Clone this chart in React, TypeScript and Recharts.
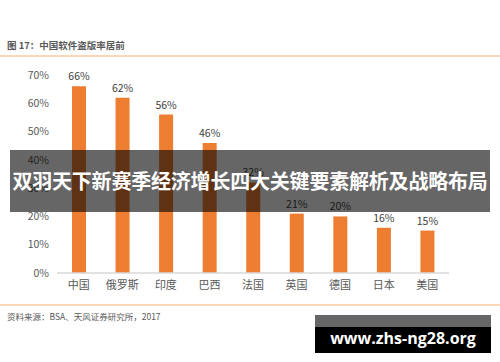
import { BarChart, Bar, XAxis, YAxis, LabelList } from 'recharts';

// 中国软件盗版率 (BSA 2017)
const countries = ['中国', '俄罗斯', '印度', '巴西', '法国', '英国', '德国', '日本', '美国'];
const piracyRate = [66, 62, 56, 46, 32, 21, 20, 16, 15];
const yTicks = [0, 10, 20, 30, 40, 50, 60, 70];

const data = countries.map((name, i) => ({ name, rate: piracyRate[i] }));

const font = '"Noto Sans CJK SC", "Noto Sans", sans-serif';

export default function App() {
  return (
    <div
      style={{
        position: 'absolute',
        left: 0,
        top: 0,
        width: 500,
        height: 362,
        background: '#fff',
        fontFamily: font,
        overflow: 'hidden',
      }}
    >
      <div
        style={{
          position: 'absolute',
          left: 7,
          top: 39,
          fontSize: 9.5,
          fontWeight: 700,
          color: '#595959',
          lineHeight: '13px',
          whiteSpace: 'nowrap',
        }}
      >
        图 17：中国软件盗版率居前
      </div>
      <div style={{ position: 'absolute', left: 0, top: 55, width: 500, height: 2, background: '#fbd6b7' }} />

      <div style={{ position: 'absolute', left: 0, top: 0 }}>
        <BarChart
          width={500}
          height={362}
          data={data}
          margin={{ top: 75, right: 51, left: 0, bottom: 59 }}
        >
          <XAxis
            dataKey="name"
            height={30}
            tickLine={false}
            axisLine={{ stroke: '#d9d9d9', strokeWidth: 1.5 }}
            tick={{ fill: '#595959', fontSize: 11, fontFamily: font }}
            interval={0}
          />
          <YAxis
            width={57}
            domain={[0, 70]}
            ticks={yTicks}
            tickLine={false}
            axisLine={false}
            tickFormatter={(v: number) => `${v}%`}
            tick={{ fill: '#595959', fontSize: 10.5, fontFamily: font }}
          />
          <Bar dataKey="rate" fill="#ED7D31" barSize={14} isAnimationActive={false}>
            <LabelList
              dataKey="rate"
              position="top"
              offset={6}
              formatter={(v: number) => `${v}%`}
              style={{ fill: '#404040', fontSize: 10.5, fontFamily: font }}
            />
          </Bar>
        </BarChart>
      </div>

      <div style={{ position: 'absolute', left: 0, top: 304, width: 500, height: 2, background: '#fbd6b7' }} />
      <div
        style={{
          position: 'absolute',
          left: 7,
          top: 310,
          fontSize: 8.5,
          color: '#595959',
          lineHeight: '12px',
          whiteSpace: 'nowrap',
        }}
      >
        资料来源：BSA、天风证券研究所，2017
      </div>

      {/* overlay banner */}
      <div
        style={{
          position: 'absolute',
          left: 10,
          top: 150,
          width: 480,
          height: 62,
          background: 'rgba(0,0,0,0.6)',
          color: '#fff',
          fontSize: 20,
          fontWeight: 700,
          lineHeight: '62px',
          textAlign: 'center',
          whiteSpace: 'nowrap',
          letterSpacing: -0.2,
        }}
      >
        双羽天下新赛季经济增长四大关键要素解析及战略布局
      </div>

      {/* watermark */}
      <div
        style={{
          position: 'absolute',
          left: 315,
          top: 315,
          width: 176,
          height: 38,
          background: 'linear-gradient(#666 0, #666 12px, #000 12px, #000 100%)',
        }}
      />
      <div
        style={{
          position: 'absolute',
          left: 315,
          top: 326,
          width: 176,
          height: 24,
          color: '#fff',
          fontSize: 16,
          fontWeight: 700,
          lineHeight: '24px',
          textAlign: 'center',
          fontFamily: '"Open Sans", "Noto Sans", sans-serif',
          whiteSpace: 'nowrap',
        }}
      >
        www.zhs-ng28.org
      </div>
    </div>
  );
}
